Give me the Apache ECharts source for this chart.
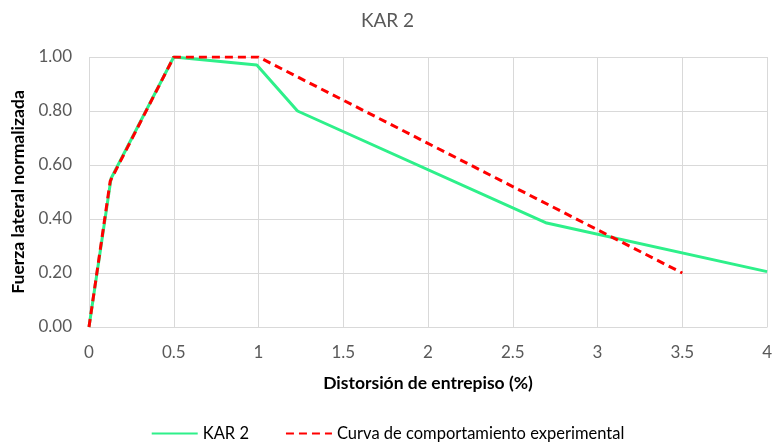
<!DOCTYPE html>
<html>
<head>
<meta charset="utf-8">
<script src="https://cdn.jsdelivr.net/npm/echarts@6/dist/echarts.min.js"></script>
<style>
  html, body { margin: 0; padding: 0; background: #fff; }
  #chart { width: 775px; height: 447px; }
</style>
</head>
<body>
<div id="chart"></div>
<script>
// Drift (%) vs normalized lateral force
const karDrift = [0, 0.13, 0.5, 0.99, 1.23, 2.7, 4.0];
const karForce = [0, 0.55, 1.0, 0.97, 0.80, 0.385, 0.205];

const expDrift = [0, 0.125, 0.5, 1.0, 3.5];
const expForce = [0, 0.54, 1.0, 1.0, 0.20];

const xTicks = [0, 0.5, 1, 1.5, 2, 2.5, 3, 3.5, 4];
const yTicks = [0, 0.2, 0.4, 0.6, 0.8, 1.0];

const pairs = (xs, ys) => xs.map((x, i) => [x, ys[i]]);

const fontFamily = 'Lato, "Open Sans", sans-serif';
const chart = echarts.init(document.getElementById('chart'));
chart.setOption({
  animation: false,
  textStyle: { fontFamily },
  title: {
    text: 'KAR 2',
    left: 'center',
    top: 6,
    textStyle: { color: '#595959', fontSize: 19, fontWeight: 'normal', fontFamily }
  },
  grid: { left: 89, right: 7, top: 57, bottom: 120, containLabel: false },
  xAxis: {
    type: 'value',
    min: xTicks[0],
    max: xTicks[xTicks.length - 1],
    interval: 0.5,
    name: 'Distorsión de entrepiso (%)',
    nameLocation: 'middle',
    nameGap: 47,
    nameTextStyle: { color: '#000', fontSize: 17.5, fontWeight: 'bold', fontFamily },
    axisLine: { show: true, lineStyle: { color: '#d9d9d9' } },
    axisTick: { show: false },
    axisLabel: { color: '#595959', fontSize: 17, margin: 17, fontFamily },
    splitLine: { show: true, lineStyle: { color: '#d9d9d9' } }
  },
  yAxis: {
    type: 'value',
    min: yTicks[0],
    max: yTicks[yTicks.length - 1],
    interval: 0.2,
    name: 'Fuerza lateral normalizada',
    nameLocation: 'middle',
    nameGap: 62,
    nameTextStyle: { color: '#000', fontSize: 17.5, fontWeight: 'bold', fontFamily },
    axisLine: { show: false },
    axisTick: { show: false },
    axisLabel: { color: '#595959', fontSize: 17, margin: 17, fontFamily,
      formatter: v => v.toFixed(2) },
    splitLine: { show: true, lineStyle: { color: '#d9d9d9' } }
  },
  legend: {
    bottom: 0,
    left: 'center',
    itemGap: 36,
    itemWidth: 46,
    itemHeight: 12,
    itemStyle: { opacity: 0 },
    textStyle: { color: '#000', fontSize: 16.5, fontFamily },
    data: ['KAR 2', 'Curva de comportamiento experimental']
  },
  series: [
    {
      name: 'KAR 2',
      type: 'line',
      data: pairs(karDrift, karForce),
      symbol: 'none',
      lineStyle: { color: '#2ef08a', width: 3 },
      itemStyle: { color: '#2ef08a' }
    },
    {
      name: 'Curva de comportamiento experimental',
      type: 'line',
      data: pairs(expDrift, expForce),
      symbol: 'none',
      lineStyle: { color: '#ff0000', width: 3, type: [8, 5] },
      itemStyle: { color: '#ff0000' }
    }
  ]
});
</script>
</body>
</html>
